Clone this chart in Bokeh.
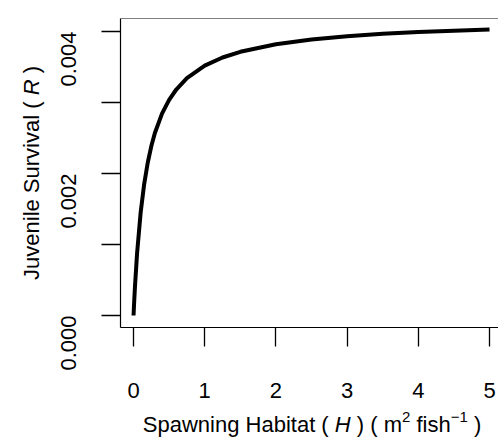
import math
from bokeh.plotting import figure
from bokeh.models import Span, FixedTicker, Label
from bokeh.layouts import row, column
from bokeh.embed import file_html
from bokeh.resources import INLINE

# ---- data ----
habitat = [0, 0.01, 0.02, 0.05, 0.1, 0.15, 0.2, 0.25, 0.3, 0.4, 0.5, 0.6, 0.75,
           1.0, 1.25, 1.5, 2.0, 2.5, 3.0, 3.5, 4.0, 4.5, 5.0]
survival = [0.0, 0.000211, 0.000402, 0.000878, 0.001451, 0.001855, 0.002155,
            0.002386, 0.002570, 0.002844, 0.003038, 0.003183, 0.003342,
            0.003519, 0.003634, 0.003714, 0.003821, 0.003888, 0.003934,
            0.003967, 0.003992, 0.004012, 0.004029]
x_ticks = [0, 1, 2, 3, 4, 5]
x_tick_labels = ["0", "1", "2", "3", "4", "5"]
y_ticks = [0.0, 0.001, 0.002, 0.003, 0.004]
y_tick_labels = ["0.000", "", "0.002", "", "0.004"]
x_title_parts = ["Spawning Habitat ( ", "H", " ) ( m", "2", " fish", "\u22121", " )"]
x_title_styles = ["normal", "italic", "normal", "normal", "normal", "normal", "normal"]
x_title_super = [False, False, False, True, False, True, False]
y_title_parts = ["Juvenile Survival ( ", "R", " )"]
y_title_styles = ["normal", "italic", "normal"]

# ---- layout ----
TOTAL_W, TOTAL_H = 498, 438
YT_W = 60                 # y-title strip width
P_LEFT = 40               # page x where the main figure starts (overlaps strip)
MAIN_H = 412
XT_OVER = 10
XT_TOP = MAIN_H - XT_OVER
XT_H = TOTAL_H - XT_TOP
MAIN_W = TOTAL_W - P_LEFT
FRAME_L, FRAME_T, FRAME_B = 120, 18, 327
X0, X1 = -0.183, 5.126
Y0, Y1 = -0.000169, 0.0041831
FS = 22
SUP = 15
FONT = "Liberation Sans"

p = figure(width=MAIN_W, height=MAIN_H, output_backend="svg", toolbar_location=None,
           x_range=(X0, X1), y_range=(Y0, Y1),
           min_border_left=FRAME_L - P_LEFT, min_border_right=0,
           min_border_top=FRAME_T, min_border_bottom=MAIN_H - FRAME_B)
p.margin = (0, 0, 0, P_LEFT - YT_W)
p.xgrid.grid_line_color = None
p.ygrid.grid_line_color = None
p.outline_line_color = None
p.background_fill_color = "white"
p.border_fill_alpha = 0

for ax in (p.xaxis[0], p.yaxis[0]):
    ax.axis_line_color = "black"
    ax.axis_line_width = 1.2
    ax.major_tick_line_color = "black"
    ax.major_tick_line_width = 1.3
    ax.major_tick_in = 0
    ax.major_tick_out = 19
    ax.minor_tick_line_color = None
    ax.major_label_text_font = FONT
    ax.major_label_text_font_size = f"{FS}px"
    ax.major_label_text_color = "black"

p.xaxis.ticker = FixedTicker(ticks=x_ticks)
p.xaxis.major_label_overrides = {t: s for t, s in zip(x_ticks, x_tick_labels)}
p.xaxis.major_label_standoff = 36
p.yaxis.ticker = FixedTicker(ticks=y_ticks)
p.yaxis.major_label_overrides = {t: s for t, s in zip(y_ticks, y_tick_labels)}
p.yaxis.major_label_orientation = math.pi / 2
p.yaxis.major_label_standoff = 33

p.add_layout(Span(location=Y1, dimension="width", line_color="black", line_width=1.2))
p.line(habitat, survival, line_color="black", line_width=4)

# ---- title strips ----
ADV = {"S": 667, "p": 556, "a": 556, "w": 722, "n": 556, "i": 222, "g": 556,
       " ": 278, "H": 722, "b": 556, "t": 278, "(": 333, ")": 333, "m": 833,
       "f": 278, "s": 500, "h": 556, "2": 556, "\u2212": 584, "1": 556,
       "J": 500, "u": 556, "v": 500, "e": 556, "l": 222, "r": 333, "R": 722}

def tw(s, size):
    return sum(ADV.get(c, 556) for c in s) / 1000 * size

def lead(s, size):
    return (len(s) - len(s.lstrip(" "))) * 0.278 * size

def strip(w, h, yr, bt=0, bb=0):
    f = figure(width=w, height=h, output_backend="svg", toolbar_location=None,
               x_range=(0, w), y_range=yr, x_axis_type=None, y_axis_type=None,
               min_border_left=0, min_border_right=0, min_border_top=bt,
               min_border_bottom=bb, title=None)
    f.outline_line_color = None
    f.xgrid.grid_line_color = None
    f.ygrid.grid_line_color = None
    f.background_fill_alpha = 0
    f.border_fill_alpha = 0
    return f

# x title (strip data y = TOTAL_H - page y)
xt = strip(TOTAL_W, XT_H, (0, XT_H))
xt.margin = (-XT_OVER, 0, 0, 0)
cx = (FRAME_L + 503) / 2
base = 423.5
sizes = [SUP if s else FS for s in x_title_super]
total = sum(tw(t, z) for t, z in zip(x_title_parts, sizes))
cur = cx - total / 2
for t, st, sup, z in zip(x_title_parts, x_title_styles, x_title_super, sizes):
    yb = base - (7 if sup else 0)
    xt.add_layout(Label(x=cur + lead(t, z), y=TOTAL_H - yb, text=t.strip(),
                        text_font=FONT, text_font_size=f"{z}px", text_font_style=st,
                        text_color="black", text_align="left",
                        text_baseline="alphabetic"))
    cur += tw(t, z)

# y title: frame aligned with the main frame (page y 18..327);
# strip data y = MAIN_H - page y
yt = strip(YT_W, MAIN_H, (MAIN_H - FRAME_B, MAIN_H - FRAME_T),
           bt=FRAME_T, bb=MAIN_H - FRAME_B)
cy = (FRAME_T + FRAME_B) / 2
total = sum(tw(t, FS) for t in y_title_parts)
cur = cy + total / 2
for t, st in zip(y_title_parts, y_title_styles):
    start = cur - lead(t, FS)
    yt.add_layout(Label(x=31, y=MAIN_H - start, text=t.strip(),
                        angle=math.pi / 2, text_font=FONT, text_font_size=f"{FS}px",
                        text_font_style=st, text_color="black", text_align="left",
                        text_baseline="alphabetic"))
    cur -= tw(t, FS)

layout = column(row(yt, p, spacing=0), xt, spacing=0)
open("out.html", "w").write(file_html(layout, INLINE))
